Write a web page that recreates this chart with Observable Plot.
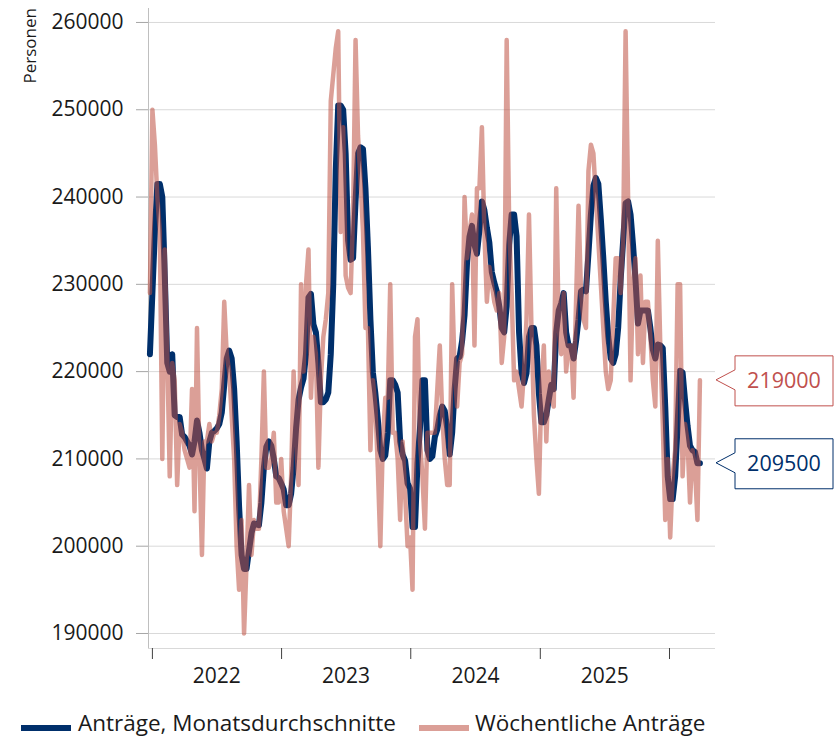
<!DOCTYPE html>
<html>
<head>
<meta charset="utf-8">
<script src="https://cdn.jsdelivr.net/npm/d3@7"></script>
<script src="https://cdn.jsdelivr.net/npm/@observablehq/plot@0.6"></script>
<style>
  body { margin: 0; background: #fff; font-family: "Open Sans", "Noto Sans", sans-serif; position: relative; width: 834px; height: 738px; overflow: hidden; }
  #chart svg { display: block; }
  #legend { position: absolute; left: 0; top: 700px; width: 834px; height: 38px; font-size: 22.5px; color: #1a1a1a; }
  #legend .sw { position: absolute; top: 25px; width: 50px; height: 6px; }
  #legend span { position: absolute; top: 12px; line-height: 1; white-space: nowrap; }
</style>
</head>
<body>
<div id="chart"></div>
<div id="legend">
  <div class="sw" style="left:21px;background:#002f6b"></div>
  <span style="left:78px">Anträge, Monatsdurchschnitte</span>
  <div class="sw" style="left:419px;background:#be5042;opacity:0.55"></div>
  <span style="left:475px">Wöchentliche Anträge</span>
</div>
<script>
// ---- data ----
const firstWeek = "2021-12-25";
const weekly = [
  229000,250000,246000,240000,236000,210000,234000,222000,208000,221000,
  219000,207000,214000,213000,211000,210000,209000,218000,204000,225000,
  210000,199000,212000,212000,214000,212000,213000,213000,215000,218000,
  228000,222000,220000,215000,210000,200000,195000,203000,190000,198000,
  207000,199000,203000,202000,202000,210000,220000,209000,209000,210000,
  213000,205000,205000,210000,204000,202000,200000,208000,220000,212000,
  207000,230000,220000,230000,234000,217000,224000,222000,209000,219000,
  224000,226000,229000,251000,254000,257000,259000,236000,248000,231000,
  229600,229000,238000,258000,247000,242000,236000,225000,225000,211000,
  219000,216000,209000,200000,212000,217000,217000,230000,213000,213000,
  210000,203000,212000,206000,200000,201000,195000,224000,226000,212000,
  208000,202000,213000,213000,213000,213000,218000,223000,215000,210000,
  207000,207000,230000,220000,216000,221000,222000,240000,233000,236000,
  238000,223000,241000,241000,248000,236000,228000,232000,230000,228000,
  227000,229000,221000,224000,258000,237000,229000,219000,220000,218000,
  216000,220000,226000,238000,225000,215000,210000,206000,218000,223000,
  212000,220000,217000,216000,241000,225000,222000,229000,220000,223000,
  223000,217000,228000,239000,229000,226000,225000,243000,246000,245000,
  240000,235000,230000,225000,220000,218000,219000,226000,233000,233000,
  229000,235000,259000,240000,219000,230000,233000,222000,231000,221000,
  228000,228000,224000,219000,216000,235000,223000,214000,203000,210000,
  201000,208000,211000,230000,230000,208000,214000,212000,205000,211000,
  209000,203000,219000
];
const average = [
  222000,229000,236000,241500,241500,240000,231000,221000,220000,222000,
  215000,214800,214800,212800,212500,212000,211500,210500,212000,214400,
  213000,211000,210000,208900,212000,213000,213200,213500,214000,215300,
  218500,221500,222400,221500,218000,212000,204500,199000,197400,197400,
  199500,201500,202600,202500,202400,205000,209000,211400,212000,211500,
  210000,208000,207800,207200,206500,204700,204700,206000,209000,213500,
  216800,218200,219200,222000,228500,228900,225400,224500,221000,216500,
  216500,216800,217600,222000,230000,243000,250500,250500,250000,245000,
  235000,232800,233000,239500,245000,245700,245500,241000,234200,226000,
  219900,217500,214500,211000,210000,210400,213000,219000,219000,218500,
  217600,212000,210500,209800,207200,206600,202200,202200,209500,213500,
  219000,219000,211000,210000,210300,212500,213400,215000,216000,215500,
  213500,210500,213000,218000,221500,221700,223500,226500,232500,235500,
  236700,234500,233500,236200,239500,238500,236500,234800,231400,230200,
  229200,227500,225000,224500,227500,234500,238000,238000,235500,224500,
  219900,218700,219800,224000,225000,225000,223000,217500,214200,214200,
  215000,216800,218500,218000,224500,227000,227800,229000,224500,223000,
  222900,221500,223500,226000,229200,229400,229200,233500,238000,241300,
  242200,241500,237500,233000,228000,224000,221500,221000,222000,225000,
  230500,235000,239300,239500,238000,234500,230500,225500,227000,227000,
  227000,227000,225000,222500,221500,223100,223000,222700,216000,208000,
  205400,205400,208000,214000,220100,219900,216700,213800,211500,211000,
  210800,209500,209500
];
const yTicks = [190000, 200000, 210000, 220000, 230000, 240000, 250000, 260000];
const yDomain = [188280, 261600];
const xDomain = ["2021-12-21", "2026-05-11"];
const yearStarts = ["2022-01-01", "2023-01-01", "2024-01-01", "2025-01-01", "2026-01-01"];
const yearLabels = ["2022", "2023", "2024", "2025"];
const yLabel = "Personen";

const BLUE = "#002f6b";
const RED = "#be5042";

// ---- table ----
const t0 = new Date(firstWeek + "T00:00:00Z").getTime();
const rows = weekly.map((w, i) => ({
  date: new Date(t0 + i * 7 * 864e5),
  weekly: w,
  average: average[i]
}));
const last = rows[rows.length - 1];
const xd = xDomain.map(d => new Date(d + "T00:00:00Z"));
const starts = yearStarts.map(d => new Date(d + "T00:00:00Z"));
const mids = yearLabels.map(y => new Date(y + "-07-02T00:00:00Z"));

// custom mark: rotated y label
function personen(index, scales, values, dims) {
  const g = d3.create("svg:g");
  g.append("text")
    .attr("transform", `translate(36,${dims.marginTop}) rotate(-90)`)
    .attr("text-anchor", "end")
    .attr("font-size", 17)
    .attr("fill", "#1a1a1a")
    .text(yLabel);
  return g.node();
}

// custom mark: callout boxes at the right end for the last values
function callouts(index, scales, values, dims) {
  const g = d3.create("svg:g");
  const x0 = dims.width - dims.marginRight + 1;
  const items = [
    {v: last.weekly, color: "#c0504d"},
    {v: last.average, color: BLUE}
  ];
  for (const it of items) {
    const y = scales.y(it.v);
    const bx = x0 + 19, bw = 98;
    g.append("path")
      .attr("d", `M${x0},${y}L${bx},${y - 10}L${bx},${y - 24}L${bx + bw},${y - 24}L${bx + bw},${y + 26}L${bx},${y + 26}L${bx},${y + 10}Z`)
      .attr("fill", "#fff")
      .attr("stroke", it.color)
      .attr("stroke-width", 1);
    g.append("text")
      .attr("x", bx + bw / 2)
      .attr("y", y + 1)
      .attr("dy", "0.35em")
      .attr("text-anchor", "middle")
      .attr("font-size", 21.5)
      .attr("fill", it.color)
      .text(String(it.v));
  }
  return g.node();
}

const chart = Plot.plot({
  width: 834,
  height: 700,
  marginLeft: 148,
  marginRight: 119,
  marginTop: 8,
  marginBottom: 52,
  style: {fontFamily: '"Open Sans", "Noto Sans", sans-serif', fontSize: "21px", color: "#1a1a1a", background: "#fff"},
  x: {type: "utc", domain: xd},
  y: {domain: yDomain},
  marks: [
    Plot.gridY(yTicks, {stroke: "#d9d9d9", strokeOpacity: 1}),
    Plot.ruleY([yDomain[0]], {stroke: "#d9d9d9"}),
    Plot.ruleX([xd[0]], {stroke: "#bfbfbf"}),
    Plot.axisY(yTicks, {tickSize: 12, tickPadding: 13, tickFormat: d3.format("d"), stroke: "#a6a6a6", fill: "#1a1a1a", fontSize: 21}),
    Plot.axisX(starts, {tickSize: 11, tickFormat: () => "", stroke: "#404040"}),
    Plot.axisX(mids, {tickSize: 0, tickPadding: 20, tickFormat: d3.utcFormat("%Y"), fill: "#1a1a1a", fontSize: 21}),
    Plot.lineY(rows, {x: "date", y: "average", stroke: BLUE, strokeWidth: 6, strokeLinejoin: "round"}),
    Plot.lineY(rows, {x: "date", y: "weekly", stroke: RED, strokeWidth: 4.5, strokeOpacity: 0.55, strokeLinejoin: "round"}),
    personen,
    callouts
  ]
});
document.getElementById("chart").appendChild(chart);
</script>
</body>
</html>
